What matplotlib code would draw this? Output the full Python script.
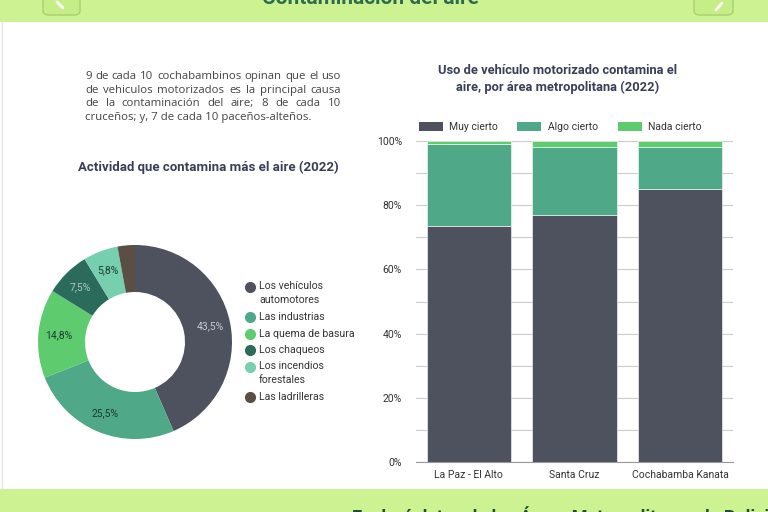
import matplotlib
matplotlib.use("Agg")
from matplotlib import pyplot as plt
from matplotlib.patches import FancyBboxPatch, Rectangle, Patch
from matplotlib.lines import Line2D
import numpy as np

# --- data ---------------------------------------------------------------
actividades = ["Los vehículos\nautomotores", "Las industrias", "La quema de basura",
               "Los chaqueos", "Los incendios\nforestales", "Las ladrilleras"]
actividad_pct = [43.5, 25.5, 14.8, 7.5, 5.8, 2.9]

areas = ["La Paz - El Alto", "Santa Cruz", "Cochabamba Kanata"]
muy_cierto = [73.5, 77.0, 85.0]
algo_cierto = [25.5, 21.0, 13.0]
nada_cierto = [1.0, 2.0, 2.0]
respuestas = ["Muy cierto", "Algo cierto", "Nada cierto"]

parrafo = ["9 de cada 10 cochabambinos opinan que el uso",
           "de vehiculos motorizados es la principal causa",
           "de la contaminación del aire; 8 de cada 10",
           "cruceños; y, 7 de cada 10 paceños-alteños."]

# --- style --------------------------------------------------------------
W, H = 768, 512
BAND = "#cdf291"
TITLE_C = "#3a3f58"
TXT_C = "#444444"
pie_colors = ["#4d525e", "#4fa887", "#5ecb6e", "#2b6b5b", "#76cfae", "#5b4e44"]
bar_colors = ["#4d525e", "#4fa887", "#5ecb6e"]
plt.rcParams["font.family"] = ["Roboto", "DejaVu Sans"]
PARA_FONT = ["Open Sans", "DejaVu Sans"]


def fx(px):
    return px / W


def fy(py):
    return 1 - py / H


fig = plt.figure(figsize=(7.68, 5.12), dpi=100)
fig.patch.set_facecolor("white")

# --- page frame: green bands, buttons ----------------------------------
fig.add_artist(Rectangle((0, fy(22)), 1, 22 / H, transform=fig.transFigure,
                         facecolor=BAND, edgecolor="none"))
fig.add_artist(Rectangle((0, 0), 1, fy(489), transform=fig.transFigure,
                         facecolor=BAND, edgecolor="none"))
fig.add_artist(Line2D([fx(1.5), fx(1.5)], [fy(489), fy(22)], transform=fig.transFigure,
                      color="#e6e6e6", lw=1))
for x0, x1 in [(43, 80), (694, 733)]:
    fig.add_artist(FancyBboxPatch((fx(x0), fy(15)), fx(x1 - x0), 30 / H,
                                  boxstyle="round,pad=0,rounding_size=0.008",
                                  transform=fig.transFigure, facecolor="#c6ee88",
                                  edgecolor="#a9cf72", lw=1))
fig.add_artist(Line2D([fx(57), fx(63)], [fy(2), fy(8)], transform=fig.transFigure,
                      color="white", lw=2, solid_capstyle="round"))
fig.add_artist(Line2D([fx(716), fx(722)], [fy(10), fy(3)], transform=fig.transFigure,
                      color="white", lw=2, solid_capstyle="round"))
# banner texts are cut by the page edge, as in the screenshot
fig.text(fx(370), fy(4), "Contaminación del aire", ha="center", va="baseline",
         fontsize=15, fontweight="bold", color="#2f6b4f")
fig.text(fx(352), fy(506), "Explorá datos de las Áreas Metropolitanas de Bolivia",
         ha="left", va="top", fontsize=13, fontweight="bold", color="#1f4d3a")

# --- justified paragraph -------------------------------------------------
renderer = fig.canvas.get_renderer()
left, right = 85, 341
line_base = [79, 93, 106, 120]
para_kw = dict(ha="left", va="baseline", fontsize=8.2, color=TXT_C, family=PARA_FONT)
for i, (line, yy) in enumerate(zip(parrafo, line_base)):
    words = line.split(" ")
    if i == len(parrafo) - 1:
        fig.text(fx(left), fy(yy), line, **para_kw)
        continue
    texts = [fig.text(0, fy(yy), w, **para_kw) for w in words]
    widths = [t.get_window_extent(renderer).width for t in texts]
    gap = (right - left - sum(widths)) / (len(words) - 1)
    x = left
    for t, w in zip(texts, widths):
        t.set_x(fx(x))
        x += w + gap

# --- donut chart ---------------------------------------------------------
fig.text(fx(208), fy(167), "Actividad que contamina más el aire (2022)", ha="center",
         va="center", fontsize=9.5, fontweight="bold", color=TITLE_C)

ax_pie = fig.add_axes([fx(135 - 100), fy(342 + 100), fx(200), 200 / H])
wedges, _ = ax_pie.pie(actividad_pct, colors=pie_colors, startangle=90, counterclock=False,
                       radius=0.97, wedgeprops=dict(width=0.47, edgecolor="none"))
ax_pie.set_xlim(-1, 1)
ax_pie.set_ylim(-1, 1)
ax_pie.set_aspect("equal")
label_colors = ["#c9cad0", "#1d3b30", "#1d3b30", "#a9c9bf", "#1d3b30", None]
for wdg, pct, lc in zip(wedges, actividad_pct, label_colors):
    if lc is None:
        continue
    ang = np.deg2rad((wdg.theta1 + wdg.theta2) / 2)
    ax_pie.text(0.77 * np.cos(ang), 0.77 * np.sin(ang), f"{pct:.1f}%".replace(".", ","),
                ha="center", va="center", fontsize=7.5, color=lc)

legend_y = [293, 317, 334, 350, 373, 397]
marker_y = [287, 317, 334, 350, 367, 397]
for name, col, yy, my in zip(actividades, pie_colors, legend_y, marker_y):
    fig.add_artist(Line2D([fx(250)], [fy(my)], transform=fig.transFigure, marker="o",
                          markersize=7, color=col, linestyle="none"))
    fig.text(fx(259), fy(yy), name, ha="left", va="center", fontsize=7.6,
             color="#333333", linespacing=1.45)

# --- stacked bars --------------------------------------------------------
fig.text(fx(558), fy(79), "Uso de vehículo motorizado contamina el\naire, por área metropolitana (2022)",
         ha="center", va="center", fontsize=9.3, fontweight="bold", color=TITLE_C,
         linespacing=1.45)

ax = fig.add_axes([fx(416), fy(462), fx(733 - 416), (462 - 141) / H])
xpos = np.arange(len(areas))
bottom = np.zeros(len(areas))
for vals, col, name in zip([muy_cierto, algo_cierto, nada_cierto], bar_colors, respuestas):
    ax.bar(xpos, vals, width=0.8, bottom=bottom, color=col, edgecolor="white",
           linewidth=0.4, label=name, zorder=3)
    bottom += np.array(vals)

ax.set_xlim(-0.5, 2.5)
ax.set_ylim(0, 100)
ax.set_yticks(np.arange(0, 101, 20))
ax.set_yticks(np.arange(10, 100, 20), minor=True)
ax.set_yticklabels([f"{v}%" for v in range(0, 101, 20)])
ax.set_xticks(xpos)
ax.set_xticklabels(areas)
ax.grid(axis="y", which="both", color="#cccccc", lw=0.8, zorder=0)
ax.tick_params(axis="both", which="both", length=0, labelsize=7.5, labelcolor="#333333")
ax.tick_params(axis="y", pad=10)
ax.tick_params(axis="x", pad=6)
for s in ["left", "top", "right"]:
    ax.spines[s].set_visible(False)
ax.spines["bottom"].set_color("#999999")
ax.spines["bottom"].set_zorder(4)

handles = [Patch(facecolor=c, edgecolor="none") for c in bar_colors]
ax.legend(handles, respuestas, loc="lower left", bbox_to_anchor=(-0.005, 1.015), ncol=3,
          frameon=False, fontsize=7.5, handlelength=2.3, handleheight=1.0,
          handletextpad=0.6, columnspacing=1.9, borderaxespad=0, labelcolor="#333333")

fig.savefig("out.png", dpi=100, facecolor="white")
